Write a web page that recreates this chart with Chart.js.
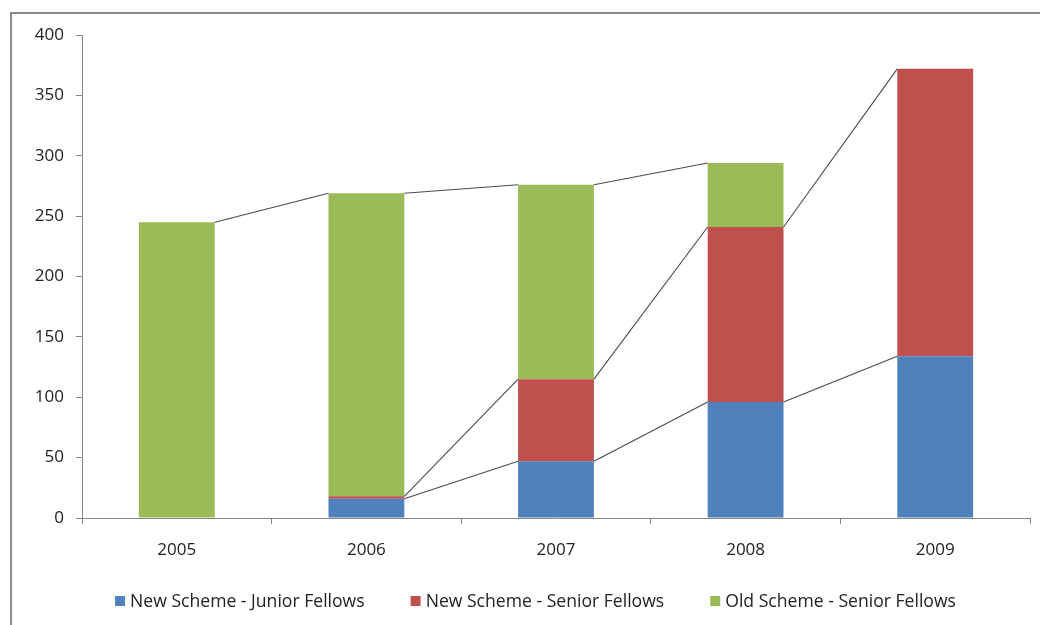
<!DOCTYPE html>
<html>
<head>
<meta charset="utf-8">
<script src="https://cdn.jsdelivr.net/npm/chart.js@4/dist/chart.umd.min.js"></script>
<style>
  html, body { margin: 0; padding: 0; background: #fff; overflow: hidden; }
  #wrap { position: relative; width: 1040px; height: 625px; }
  #frame { position: absolute; left: 10px; top: 12px; width: 1100px; height: 700px;
           border-left: 2px solid #8c8c8c; border-top: 2px solid #8c8c8c; box-sizing: border-box; }
  canvas { position: absolute; left: 0; top: 0; }
</style>
</head>
<body>
<div id="wrap">
  <div id="frame"></div>
  <canvas id="c" width="1040" height="625"></canvas>
</div>
<script>
// Fellows per year, by scheme
const years = ['2005', '2006', '2007', '2008', '2009'];
const juniorNew = [null, 16, 47, 96, 134];
const seniorNew = [null, 2, 68, 145, 238];
const seniorOld = [245, 251, 161, 53, null];

const seriesNames = ['New Scheme - Junior Fellows', 'New Scheme - Senior Fellows', 'Old Scheme - Senior Fellows'];
const seriesColors = ['#4F81BD', '#C0504D', '#9BBB59'];
const yTicks = [0, 50, 100, 150, 200, 250, 300, 350, 400];

const FONT = "'Open Sans', 'Liberation Sans', sans-serif";

// Connector lines between the tops of matching stack segments
const seriesLines = {
  id: 'seriesLines',
  afterDatasetsDraw(chart) {
    const ctx = chart.ctx;
    ctx.save();
    ctx.strokeStyle = '#4a4a4a';
    ctx.lineWidth = 1.1;
    chart.data.datasets.forEach((ds, i) => {
      const meta = chart.getDatasetMeta(i);
      for (let j = 0; j < ds.data.length - 1; j++) {
        if (ds.data[j] == null || ds.data[j + 1] == null) continue;
        const a = meta.data[j], b = meta.data[j + 1];
        ctx.beginPath();
        ctx.moveTo(a.x + a.width / 2, a.y);
        ctx.lineTo(b.x - b.width / 2, b.y);
        ctx.stroke();
      }
    });
    ctx.restore();
  }
};

// Single-row legend under the plot, built from the datasets
const bottomLegend = {
  id: 'bottomLegend',
  afterDraw(chart) {
    const ctx = chart.ctx;
    const box = 10, gapText = 5, gapItem = 46, cx = 535.5, cy = 601;
    ctx.save();
    ctx.font = '17.6px ' + FONT;
    ctx.textBaseline = 'middle';
    ctx.textAlign = 'left';
    const items = chart.data.datasets.map(ds => ({
      text: ds.label, color: ds.backgroundColor,
      w: box + gapText + ctx.measureText(ds.label).width
    }));
    const total = items.reduce((s, it) => s + it.w, 0) + gapItem * (items.length - 1);
    let x = cx - total / 2;
    items.forEach(it => {
      ctx.fillStyle = it.color;
      ctx.fillRect(x, cy - box / 2, box, box);
      ctx.fillStyle = '#222';
      ctx.fillText(it.text, x + box + gapText, cy + 1);
      x += it.w + gapItem;
    });
    ctx.restore();
  }
};

const tickFont = { family: FONT, size: 17 };

new Chart(document.getElementById('c'), {
  type: 'bar',
  data: {
    labels: years,
    datasets: [juniorNew, seniorNew, seniorOld].map((d, i) => ({
      label: seriesNames[i],
      data: d,
      backgroundColor: seriesColors[i],
      borderWidth: 0,
      categoryPercentage: 1.0,
      barPercentage: 0.4
    }))
  },
  options: {
    responsive: false,
    animation: false,
    events: [],
    layout: { padding: { left: 0, right: 10, top: 35, bottom: 27 } },
    plugins: {
      tooltip: { enabled: false },
      legend: { display: false }
    },
    scales: {
      x: {
        stacked: true,
        afterFit(scale) { scale.height = 80; },
        grid: { display: true, drawOnChartArea: false, drawTicks: true, tickLength: 6, color: '#868686', offset: true },
        border: { display: true, color: '#868686', width: 1 },
        ticks: { color: '#222', font: tickFont, padding: 16 }
      },
      y: {
        stacked: true,
        min: 0,
        max: 400,
        afterFit(scale) { scale.width = 82; },
        afterBuildTicks(scale) { scale.ticks = yTicks.map(v => ({ value: v })); },
        grid: { display: true, drawOnChartArea: false, drawTicks: true, tickLength: 6, color: '#868686' },
        border: { display: true, color: '#868686', width: 1 },
        ticks: { color: '#222', font: tickFont, padding: 12 }
      }
    }
  },
  plugins: [seriesLines, bottomLegend]
});
</script>
</body>
</html>
